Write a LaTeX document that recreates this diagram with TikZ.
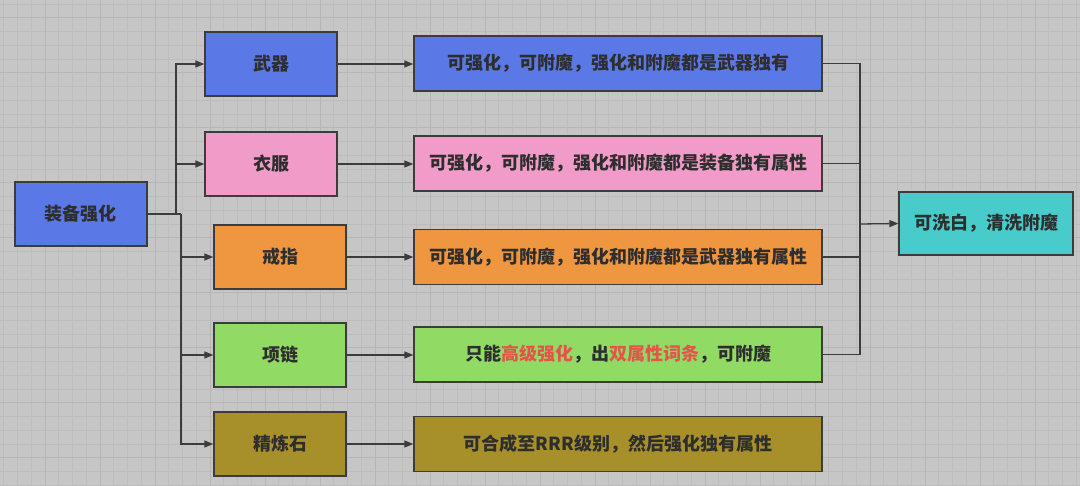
\documentclass[tikz,border=0pt]{standalone}
\usepackage{fontspec}
\setmainfont{Noto Sans CJK SC}
\usetikzlibrary{arrows.meta}
\definecolor{bg}{HTML}{C6C6C6}
\definecolor{gridminor}{HTML}{BDBDBD}
\definecolor{gridmajor}{HTML}{B6B6B6}
\definecolor{edge}{HTML}{3C3C3C}
\definecolor{txt}{HTML}{2E2E2E}
\definecolor{hl}{HTML}{E5544A}
\definecolor{cblue}{HTML}{5A79E6}
\definecolor{cpink}{HTML}{F09BC8}
\definecolor{corange}{HTML}{EF9640}
\definecolor{cgreen}{HTML}{91DA64}
\definecolor{colive}{HTML}{A78F2A}
\definecolor{ccyan}{HTML}{48CBCB}
\tikzset{
  box/.style={draw=edge, line width=1.3pt, text=txt, font=\fontsize{18}{21}\selectfont\bfseries, inner sep=0pt, align=center},
  smallbox/.style={box, minimum width=132pt, minimum height=64pt},
  wide/.style={box, minimum width=408pt, minimum height=55pt},
  conn/.style={draw=edge, line width=1.3pt},
  arr/.style={conn, -{Triangle[length=9pt,width=7pt]}}
}
\begin{document}
\begin{tikzpicture}[x=1pt,y=-1pt]
\fill[bg] (0,0) rectangle (1080,486);
\useasboundingbox (0,0) rectangle (1080,486);
\begin{scope}
\clip (0,0) rectangle (1080,486);
\foreach \i in {0,...,80} {
  \draw[gridminor, line width=0.7pt] ({-10+\i*13.75},0) -- ({-10+\i*13.75},486);
}
\foreach \i in {0,...,40} {
  \draw[gridminor, line width=0.7pt] (0,{17.7-55+\i*13.75}) -- (1080,{17.7-55+\i*13.75});
}
\foreach \i in {0,...,20} {
  \draw[gridmajor, line width=1pt] ({-10+\i*55},0) -- ({-10+\i*55},486);
}
\foreach \i in {0,...,10} {
  \draw[gridmajor, line width=1pt] (0,{17.7-55+\i*55}) -- (1080,{17.7-55+\i*55});
}
\end{scope}

% left column
\node[smallbox, fill=cblue] (main) at (81,214) {装备强化};
\node[smallbox, fill=cblue] (wq) at (271,64) {武器};
\node[smallbox, fill=cpink] (yf) at (271,164) {衣服};
\node[smallbox, fill=corange] (jz) at (280,257) {戒指};
\node[smallbox, fill=cgreen] (xl) at (280,355) {项链};
\node[smallbox, fill=colive] (jls) at (280,444) {精炼石};

% middle column
\node[wide, fill=cblue] (t1) at (618,63.5) {可强化，可附魔，强化和附魔都是武器独有};
\node[wide, fill=cpink] (t2) at (618,163.5) {可强化，可附魔，强化和附魔都是装备独有属性};
\node[wide, fill=corange] (t3) at (618,257) {可强化，可附魔，强化和附魔都是武器独有属性};
\node[wide, fill=cgreen] (t4) at (618,354.5) {只能\textcolor{hl}{高级强化}，出\textcolor{hl}{双属性词条}，可附魔};
\node[wide, fill=colive] (t5) at (618,444) {可合成至RRR级别，然后强化独有属性};

% final
\node[box, fill=ccyan, minimum width=174pt, minimum height=63pt] (fin) at (986,223.5) {可洗白，清洗附魔};

% branch points
\coordinate (b1) at (176,214);
\coordinate (b2) at (181,214);
\coordinate (m) at (860,224);

\draw[conn] (main.east) -- (b2);
\draw[arr] (b1) |- (wq.west);
\draw[arr] (b1) |- (yf.west);
\draw[arr] (b2) |- (jz.west);
\draw[arr] (b2) |- (xl.west);
\draw[arr] (b2) |- (jls.west);

\draw[arr] (wq.east) -- (wq.east -| t1.west);
\draw[arr] (yf.east) -- (yf.east -| t2.west);
\draw[arr] (jz.east) -- (jz.east -| t3.west);
\draw[arr] (xl.east) -- (xl.east -| t4.west);
\draw[arr] (jls.east) -- (jls.east -| t5.west);

\draw[conn] (t1.east) -| (m);
\draw[conn] (t2.east) -| (m);
\draw[conn] (t3.east) -| (m);
\draw[conn] (t4.east) -| (m);
\draw[arr] (m) -- (fin.west);
\end{tikzpicture}
\end{document}
